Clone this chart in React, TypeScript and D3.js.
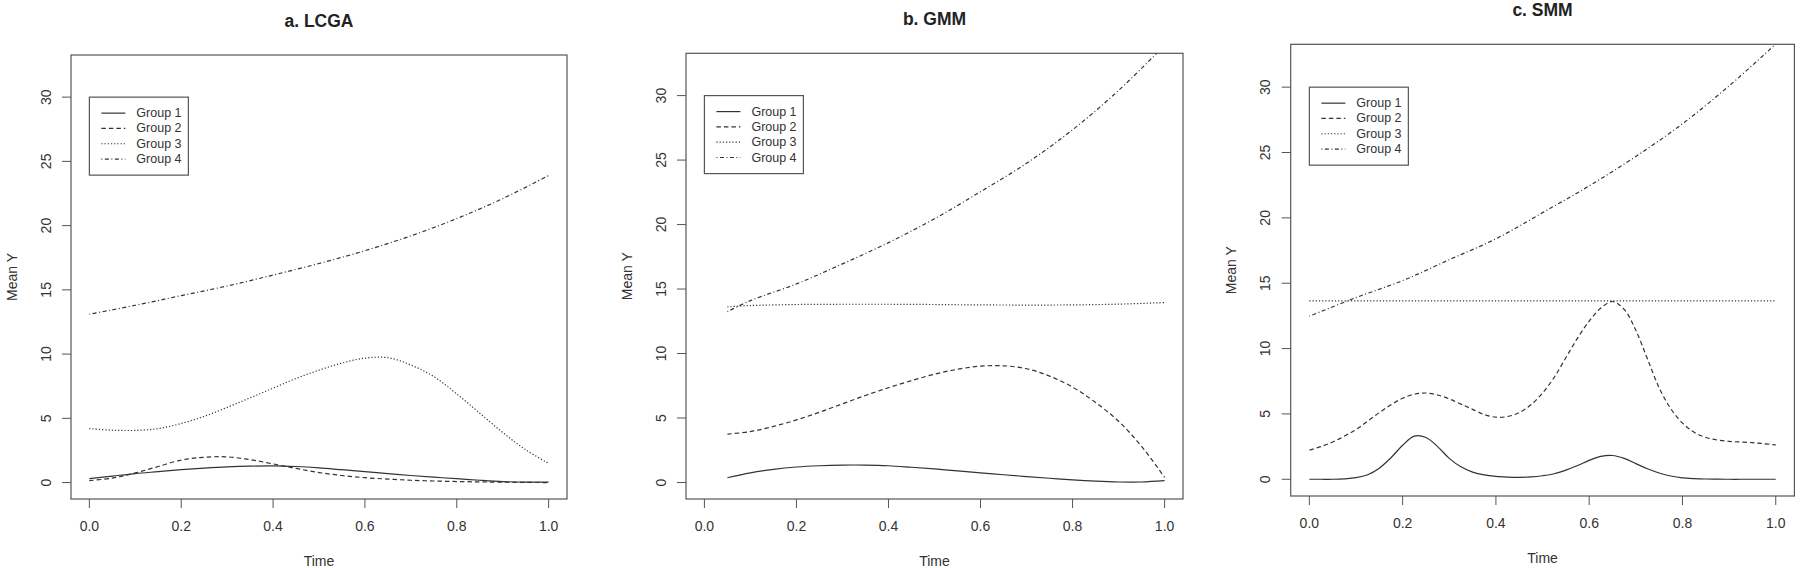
import React from "react";
import * as d3 from "d3";

// ---- data ----
const groupNames = ["Group 1", "Group 2", "Group 3", "Group 4"];
const xTicks = [0, 0.2, 0.4, 0.6, 0.8, 1.0];
const yTicks = [0, 5, 10, 15, 20, 25, 30];

// a. LCGA
const lcgaTime = [0, 0.05, 0.1, 0.15, 0.2, 0.25, 0.3, 0.35, 0.4, 0.45, 0.5, 0.55, 0.6, 0.65, 0.7, 0.75, 0.8, 0.85, 0.9, 0.95, 1];
const lcgaTime10 = [0, 0.1, 0.2, 0.3, 0.4, 0.5, 0.6, 0.7, 0.8, 0.9, 1];
const lcgaG1 = [0.3, 0.5, 0.7, 0.85, 1.0, 1.12, 1.22, 1.28, 1.3, 1.25, 1.15, 1.0, 0.85, 0.7, 0.55, 0.42, 0.3, 0.18, 0.08, 0.03, 0.03];
const lcgaG2 = [0.15, 0.35, 0.75, 1.25, 1.75, 1.97, 2.0, 1.78, 1.45, 1.1, 0.78, 0.55, 0.38, 0.27, 0.18, 0.12, 0.08, 0.05, 0.03, 0.01, 0];
const lcgaG3 = [4.2, 4.08, 4.06, 4.2, 4.6, 5.15, 5.85, 6.6, 7.35, 8.1, 8.75, 9.3, 9.68, 9.72, 9.15, 8.25, 6.9, 5.4, 3.9, 2.55, 1.5];
const lcgaG4 = [13.1, 13.8, 14.55, 15.3, 16.15, 17.05, 18.05, 19.2, 20.55, 22.1, 23.9];

// b. GMM
const gmmTime = [0.05, 0.1, 0.15, 0.2, 0.25, 0.3, 0.35, 0.4, 0.45, 0.5, 0.55, 0.6, 0.65, 0.7, 0.75, 0.8, 0.85, 0.9, 0.95, 1];
const gmmTime10 = [0.05, 0.1, 0.2, 0.3, 0.4, 0.5, 0.6, 0.7, 0.8, 0.9, 1];
const gmmG1 = [0.37, 0.75, 1.02, 1.2, 1.3, 1.35, 1.35, 1.3, 1.18, 1.05, 0.9, 0.75, 0.6, 0.46, 0.33, 0.2, 0.1, 0.04, 0.04, 0.14];
const gmmG2 = [3.75, 3.95, 4.35, 4.85, 5.45, 6.1, 6.75, 7.35, 7.9, 8.4, 8.78, 9.02, 9.05, 8.82, 8.25, 7.4, 6.2, 4.75, 2.8, 0.4];
const gmmG3 = [13.62, 13.72, 13.8, 13.82, 13.82, 13.8, 13.77, 13.76, 13.77, 13.83, 13.95];
const gmmG4 = [13.25, 14.1, 15.4, 16.95, 18.6, 20.45, 22.55, 24.75, 27.35, 30.4, 33.9];

// c. SMM
const smmTime = [
  0, 0.025, 0.05, 0.075, 0.1, 0.125, 0.15, 0.175, 0.2, 0.225, 0.25, 0.275, 0.3, 0.325, 0.35, 0.375, 0.4, 0.425, 0.45, 0.475, 0.5,
  0.525, 0.55, 0.575, 0.6, 0.625, 0.65, 0.675, 0.7, 0.725, 0.75, 0.775, 0.8, 0.825, 0.85, 0.875, 0.9, 0.925, 0.95, 0.975, 1,
];
const smmTime10 = [0, 0.1, 0.2, 0.3, 0.4, 0.5, 0.6, 0.7, 0.8, 0.9, 1];
const smmFlatTime = [0, 1];
const smmG1 = [
  0, 0, 0, 0.03, 0.12, 0.35, 0.85, 1.65, 2.6, 3.3, 3.2, 2.5, 1.6, 0.95, 0.55, 0.33, 0.22, 0.17, 0.15, 0.18, 0.27,
  0.42, 0.7, 1.05, 1.45, 1.75, 1.82, 1.6, 1.2, 0.8, 0.48, 0.25, 0.11, 0.05, 0.02, 0.01, 0, 0, 0, 0, 0,
];
const smmG2 = [
  2.24, 2.5, 2.85, 3.3, 3.8, 4.45, 5.1, 5.7, 6.2, 6.5, 6.6, 6.45, 6.15, 5.75, 5.35, 4.95, 4.75, 4.8, 5.1, 5.7, 6.6,
  7.8, 9.3, 10.8, 12.1, 13.1, 13.6, 13.0, 11.4, 9.2, 7.0, 5.4, 4.3, 3.6, 3.2, 3.0, 2.9, 2.85, 2.8, 2.72, 2.63,
];
const smmG3 = [13.65, 13.65];
const smmG4 = [12.47, 13.9, 15.2, 16.8, 18.4, 20.4, 22.45, 24.7, 27.2, 30.1, 33.3];

// ---- styling ----
const dashes = ["none", "4.5,3", "1.2,2", "1,2.5,4,2.5"];
const ink = "#333";
const frame = "#555";
const font = "'Liberation Sans', Arial, Helvetica, sans-serif";

type Series = { t: number[]; v: number[] };

const panels = [
  {
    id: "a",
    title: "a. LCGA",
    box: { left: 71, right: 567, top: 55, bottom: 499 },
    series: [
      { t: lcgaTime, v: lcgaG1 },
      { t: lcgaTime, v: lcgaG2 },
      { t: lcgaTime, v: lcgaG3 },
      { t: lcgaTime10, v: lcgaG4 },
    ],
  },
  {
    id: "b",
    title: "b. GMM",
    box: { left: 686, right: 1183, top: 53.3, bottom: 499 },
    series: [
      { t: gmmTime, v: gmmG1 },
      { t: gmmTime, v: gmmG2 },
      { t: gmmTime10, v: gmmG3 },
      { t: gmmTime10, v: gmmG4 },
    ],
  },
  {
    id: "c",
    title: "c. SMM",
    box: { left: 1290.7, right: 1794.4, top: 44.3, bottom: 496 },
    series: [
      { t: smmTime, v: smmG1 },
      { t: smmTime, v: smmG2 },
      { t: smmFlatTime, v: smmG3 },
      { t: smmTime10, v: smmG4 },
    ],
  },
];

function Panel({ id, title, box, series }: { id: string; title: string; box: any; series: Series[] }) {
  const { left, right, top, bottom } = box;
  // R-style 4% axis extension around xlim c(0,1) and ylim c(0,32)
  const x = d3.scaleLinear().domain([-0.04, 1.04]).range([left, right]);
  const y = d3.scaleLinear().domain([-1.28, 33.28]).range([bottom, top]);
  const line = d3
    .line<[number, number]>()
    .x((d) => x(d[0]))
    .y((d) => y(d[1]))
    .curve(d3.curveCatmullRom.alpha(0.5));
  const fmt = d3.format(".1f");

  const lx = x(0);
  const ly = y(30);
  const cx = (left + right) / 2;
  const cy = (top + bottom) / 2;

  return (
    <g>
      <defs>
        <clipPath id={`clip-${id}`}>
          <rect x={left} y={top} width={right - left} height={bottom - top} />
        </clipPath>
      </defs>

      <text x={cx} y={top - 34} textAnchor="middle" dominantBaseline="central" fontSize={17.5} fontWeight="bold" fill="#222">
        {title}
      </text>

      <rect x={left} y={top} width={right - left} height={bottom - top} fill="none" stroke={frame} strokeWidth={1.2} />

      {xTicks.map((t) => (
        <g key={`x${t}`}>
          <line x1={x(t)} x2={x(t)} y1={bottom} y2={bottom + 9} stroke={frame} />
          <text x={x(t)} y={bottom + 27} textAnchor="middle" dominantBaseline="central" fontSize={14} fill={ink}>
            {fmt(t)}
          </text>
        </g>
      ))}
      {yTicks.map((t) => (
        <g key={`y${t}`}>
          <line x1={left - 9} x2={left} y1={y(t)} y2={y(t)} stroke={frame} />
          <text
            transform={`translate(${left - 25.5},${y(t)}) rotate(-90)`}
            textAnchor="middle"
            dominantBaseline="central"
            fontSize={14}
            fill={ink}
          >
            {t}
          </text>
        </g>
      ))}

      <text x={cx} y={bottom + 61.5} textAnchor="middle" dominantBaseline="central" fontSize={14} fill={ink}>
        Time
      </text>
      <text
        transform={`translate(${left - 59.5},${cy}) rotate(-90)`}
        textAnchor="middle"
        dominantBaseline="central"
        fontSize={14}
        fill={ink}
      >
        Mean Y
      </text>

      <g clipPath={`url(#clip-${id})`}>
        {series.map((s, i) => (
          <path
            key={i}
            d={line(s.t.map((t, j) => [t, s.v[j]] as [number, number])) || ""}
            fill="none"
            stroke={ink}
            strokeWidth={1.2}
            strokeDasharray={dashes[i]}
          />
        ))}
      </g>

      <rect x={lx} y={ly} width={99} height={78} fill="white" stroke={frame} strokeWidth={1.2} />
      {groupNames.map((name, i) => (
        <g key={name}>
          <line
            x1={lx + 12}
            x2={lx + 36}
            y1={ly + 16 + i * 15.3}
            y2={ly + 16 + i * 15.3}
            stroke={ink}
            strokeWidth={1.2}
            strokeDasharray={dashes[i]}
          />
          <text x={lx + 47} y={ly + 16 + i * 15.3} dominantBaseline="central" fontSize={12.5} fill={ink}>
            {name}
          </text>
        </g>
      ))}
    </g>
  );
}

export default function App() {
  return (
    <svg
      width={1800}
      height={568}
      style={{ position: "absolute", left: 0, top: 0, background: "white", fontFamily: font }}
    >
      <rect width={1800} height={568} fill="white" />
      {panels.map((p) => (
        <Panel key={p.id} {...p} />
      ))}
    </svg>
  );
}
